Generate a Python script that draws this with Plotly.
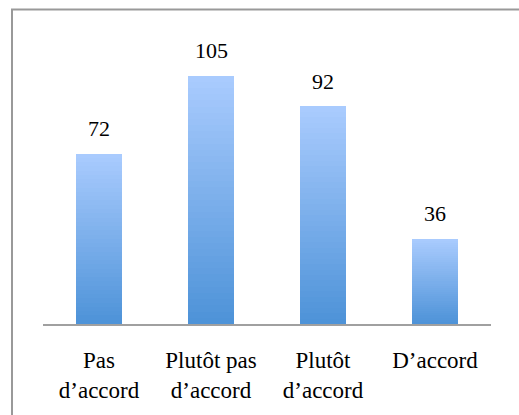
import plotly.graph_objects as go
import numpy as np

categories = ["Pas<br>d’accord", "Plutôt pas<br>d’accord", "Plutôt<br>d’accord", "D’accord"]
values = [72, 105, 92, 36]

top_color = np.array([0xA9, 0xCB, 0xFE])
bottom_color = np.array([0x4E, 0x93, 0xD8])
N = 40

W, H = 519, 415
ml, mr, mt, mb = 43, 28, 40, 86
pw, ph = W - ml - mr, H - mt - mb
FONT = "Liberation Serif"

fig = go.Figure()
vals = np.array(values, dtype=float)
for k in range(N):
    t = k / (N - 1)
    c = bottom_color + (top_color - bottom_color) * t
    col = "rgb(%d,%d,%d)" % tuple(c.round().astype(int))
    fig.add_trace(go.Bar(
        x=categories, y=vals / N, marker=dict(color=col, line=dict(width=0)),
        width=0.41, hoverinfo="skip", showlegend=False,
    ))

for cat, v in zip(categories, values):
    fig.add_annotation(x=cat, y=v, xref="x", yref="y", text=str(v), showarrow=False,
                       yanchor="middle", yshift=25,
                       font=dict(family=FONT, size=22, color="black"))

fig.update_layout(
    barmode="stack", bargap=0,
    width=W, height=H,
    margin=dict(l=ml, r=mr, t=mt, b=mb),
    paper_bgcolor="white", plot_bgcolor="white",
    font=dict(family=FONT, size=23, color="black"),
    xaxis=dict(showgrid=False, showline=True, linecolor="#a0a0a0", linewidth=2,
               ticks="outside", ticklen=14, tickcolor="rgba(0,0,0,0)",
               tickfont=dict(family=FONT, size=23, color="black")),
    yaxis=dict(range=[0, 120], visible=False),
    shapes=[dict(type="path", xref="paper", yref="paper",
                 path="M %f %f L %f %f L %f %f" % (
                     (12 - ml) / pw, -0.6, (12 - ml) / pw, 1 + (mt - 9) / ph, 1.2, 1 + (mt - 9) / ph),
                 line=dict(color="#999999", width=2))],
)

fig.write_html("out.html", post_script="document.body.style.margin='0';",
               config={"displayModeBar": False})
